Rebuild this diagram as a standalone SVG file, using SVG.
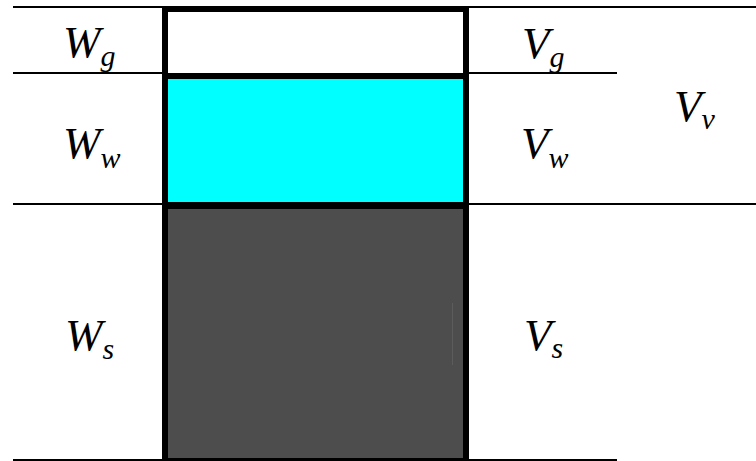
<svg xmlns="http://www.w3.org/2000/svg" width="756" height="461" viewBox="0 0 756 461">
<style>
.ln{stroke:#000;stroke-width:2;fill:none}
text{font-family:'Liberation Serif','Times New Roman',serif;font-style:italic;fill:#000;font-size:45px}
.s{font-size:30px}
</style>
<rect width="756" height="461" fill="#fff"/>
<g id="connectors">
<line class="ln" x1="13" y1="7" x2="756" y2="7"/>
<line class="ln" x1="13" y1="73" x2="617" y2="73"/>
<line class="ln" x1="13" y1="204" x2="756" y2="204"/>
<line class="ln" x1="13" y1="460" x2="617" y2="460"/>
</g>
<g id="box">
<rect x="162" y="6" width="307" height="455" fill="#000"/>
<rect id="gas" x="168" y="12" width="295" height="61" fill="#fff"/>
<rect id="water" x="168" y="79" width="295" height="123" fill="#00ffff"/>
<rect id="solid" x="168" y="209" width="295" height="249" fill="#4d4d4d"/>
<line x1="452.5" y1="303" x2="452.5" y2="365" stroke="#5c5c5c" stroke-width="1"/>
</g>
<g id="Wg"><text x="63" y="57">W<tspan class="s" dy="9">g</tspan></text></g>
<g id="Ww"><text x="63" y="158">W<tspan class="s" dy="10">w</tspan></text></g>
<g id="Ws"><text x="65" y="350">W<tspan class="s" dy="9">s</tspan></text></g>
<g id="Vg"><text x="522" y="58">V<tspan class="s" dy="9">g</tspan></text></g>
<g id="Vw"><text x="521" y="158">V<tspan class="s" dy="10">w</tspan></text></g>
<g id="Vs"><text x="524" y="350">V<tspan class="s" dy="8">s</tspan></text></g>
<g id="Vv"><text x="674" y="121">V<tspan class="s" dy="8">v</tspan></text></g>
</svg>
